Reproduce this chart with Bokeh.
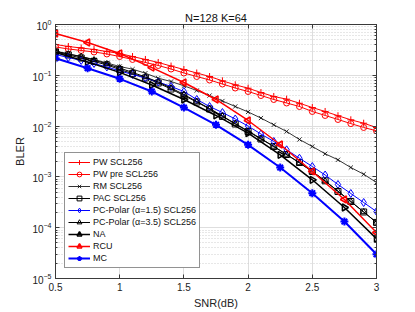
import numpy as np
from bokeh.plotting import figure
from bokeh.models import (LogAxis, LinearAxis, FixedTicker, LogTicker, NumeralTickFormatter,
                          Legend, LegendItem, Range1d)
from bokeh.embed import file_html
from bokeh.resources import INLINE

snr_fine = [0.5, 0.6, 0.7, 0.8, 0.9, 1.0, 1.1, 1.2, 1.3, 1.4, 1.5, 1.6, 1.7,
            1.8, 1.9, 2.0, 2.1, 2.2, 2.3, 2.4, 2.5, 2.6, 2.7, 2.8, 2.9, 3.0]
snr_coarse = [0.5, 0.75, 1.0, 1.25, 1.5, 1.75, 2.0, 2.25, 2.5, 2.75, 3.0]

pw_scl = [0.404, 0.369, 0.345, 0.322, 0.294, 0.269, 0.234, 0.205, 0.179, 0.152, 0.130, 0.111, 0.0947,
          0.0779, 0.0650, 0.0557, 0.0458, 0.0383, 0.0339, 0.0282, 0.0232, 0.0194, 0.0160, 0.0133, 0.0114, 0.00938]
pw_pre = [0.361, 0.330, 0.308, 0.288, 0.263, 0.234, 0.205, 0.179, 0.156, 0.133, 0.111, 0.0947, 0.0808,
          0.0674, 0.0562, 0.0480, 0.0400, 0.0334, 0.0285, 0.0243, 0.0194, 0.0162, 0.0135, 0.0112, 0.0094, 0.00807]
rm_scl = [0.294, 0.263, 0.234, 0.205, 0.175, 0.149, 0.132, 0.110, 0.0877, 0.0755, 0.0621, 0.0502, 0.0400,
          0.0312, 0.0243, 0.0190, 0.0144, 0.0106, 0.00783, 0.00545, 0.00397, 0.00285, 0.00217, 0.00153, 0.00113, 0.000776]
pac_scl = [0.288, 0.251, 0.219, 0.187, 0.160, 0.130, 0.108, 0.0885, 0.0705, 0.0537, 0.0400, 0.0298, 0.0217,
           0.0155, 0.0110, 0.00783, 0.00557, 0.00397, 0.00276, 0.00192, 0.00128, 0.000838, 0.000516, 0.000328, 0.000204, 0.000127]
pc15_scl = [0.257, 0.224, 0.196, 0.171, 0.146, 0.122, 0.104, 0.0885, 0.0738, 0.0602, 0.0480, 0.0334, 0.0243,
            0.0185, 0.0138, 0.0100, 0.00699, 0.00498, 0.00341, 0.00233, 0.00160, 0.00109, 0.000708, 0.000471, 0.000313, 0.000208]
pc35_scl = [0.300, 0.262, 0.234, 0.200, 0.167, 0.139, 0.114, 0.0926, 0.0738, 0.0562, 0.0419, 0.0305, 0.0222,
            0.0158, 0.0112, 0.00801, 0.00570, 0.00397, 0.00276, 0.00188, 0.00128, 0.000830, 0.000527, 0.000328, 0.000204, 0.000127]
na = [0.281, 0.183, 0.114, 0.0644, 0.0334, 0.0162, 0.00725, 0.00272, 0.000877, 0.000250, 6.1e-5]
rcu = [0.665, 0.442, 0.269, 0.142, 0.0722, 0.0334, 0.0129, 0.00434, 0.00128, 0.000359, 8.05e-5]
mc = [0.217, 0.138, 0.0853, 0.0480, 0.0232, 0.0106, 0.00428, 0.00153, 0.000478, 0.000132, 3.0e-5]

x_ticks = [0.5, 1.0, 1.5, 2.0, 2.5, 3.0]

FONT = "Liberation Sans"
AX = "#3a3a3a"

p = figure(frame_width=321, frame_height=254, y_axis_type="log",
           x_range=Range1d(0.5, 3.0), y_range=Range1d(1e-5, 1.0),
           output_backend="svg", toolbar_location=None,
           min_border_left=47, min_border_right=32, min_border_top=15, min_border_bottom=31,
           background_fill_color="white", border_fill_color="white")
p.margin = (8, 0, 0, 8)

p.title.text = "N=128 K=64"
p.title.align = "center"
p.title.text_font = FONT
p.title.text_font_size = "11px"
p.title.text_font_style = "normal"
p.title.text_color = "#111111"
p.title.standoff = 2

p.outline_line_color = AX
p.outline_line_width = 1

xa = p.xaxis[0]
xa.ticker = FixedTicker(ticks=x_ticks)
xa.formatter = NumeralTickFormatter(format="0.[0]")
xa.axis_label = "SNR(dB)"
ya = p.yaxis[0]
ya.ticker = LogTicker(num_minor_ticks=10)
ya.axis_label = "BLER"
for ax in (xa, ya):
    ax.axis_label_text_font = FONT
    ax.axis_label_text_font_size = "11px"
    ax.axis_label_text_font_style = "normal"
    ax.axis_label_text_color = "#222222"
    ax.major_label_text_font = FONT
    ax.major_label_text_font_size = "10px"
    ax.major_label_text_color = "#222222"
    ax.axis_line_color = AX
    ax.major_tick_line_color = AX
    ax.minor_tick_line_color = AX
    ax.major_tick_in = 4
    ax.major_tick_out = 0
    ax.minor_tick_in = 2
    ax.minor_tick_out = 0
    ax.major_label_standoff = 4
xa.axis_label_standoff = 3
ya.axis_label_standoff = 3

ra = LogAxis(ticker=LogTicker(num_minor_ticks=10))
ra.major_label_text_font_size = "1px"
ra.major_label_text_color = None
ra.major_label_standoff = 0
ra.axis_line_color = AX
ra.major_tick_line_color = AX
ra.minor_tick_line_color = AX
ra.major_tick_in = 4
ra.major_tick_out = 0
ra.minor_tick_in = 2
ra.minor_tick_out = 0
p.add_layout(ra, "right")

ta = LinearAxis(ticker=FixedTicker(ticks=x_ticks))
ta.major_label_text_font_size = "1px"
ta.major_label_text_color = None
ta.major_label_standoff = 0
ta.axis_line_color = AX
ta.major_tick_line_color = AX
ta.major_tick_in = 4
ta.major_tick_out = 0
p.add_layout(ta, "above")

p.xgrid.grid_line_color = "#dedede"
p.ygrid.grid_line_color = "#dedede"
p.ygrid.minor_grid_line_color = "#cfcfcf"
p.ygrid.minor_grid_line_dash = "1 2"

series = [
    ("PW SCL256", snr_fine, pw_scl, "#ff0000", "cross", 7, 1.0, 0),
    ("PW pre SCL256", snr_fine, pw_pre, "#ff0000", "circle", 6, 1.0, 0),
    ("RM SCL256", snr_fine, rm_scl, "#000000", "x", 6, 0.8, 0),
    ("PAC SCL256", snr_fine, pac_scl, "#000000", "square", 6, 1.0, 0),
    ("PC-Polar (\u03b1=1.5) SCL256", snr_fine, pc15_scl, "#0000ff", "diamond", 8, 1.0, 0),
    ("PC-Polar (\u03b1=3.5) SCL256", snr_fine, pc35_scl, "#000000", "triangle", 6, 1.0, 0),
    ("NA", snr_coarse, na, "#000000", "triangle", 7, 1.5, -np.pi / 2),
    ("RCU", snr_coarse, rcu, "#ff0000", "triangle", 7, 1.5, np.pi / 2),
    ("MC", snr_coarse, mc, "#0000ff", "asterisk", 8, 2.0, 0),
]

items = []
for label, xs, ys, color, marker, size, lw, ang in series:
    lr = p.line(xs, ys, line_color=color, line_width=lw)
    sr = p.scatter(xs, ys, marker=marker, size=size, line_color=color, fill_color=None,
                   line_width=lw, angle=ang)
    items.append(LegendItem(label=label, renderers=[lr, sr]))

legend = Legend(items=items, location=(9, 10))
legend.label_text_font = FONT
legend.label_text_font_size = "9px"
legend.label_text_color = "#111111"
legend.glyph_width = 22
legend.glyph_height = 12
legend.label_height = 12
legend.spacing = 0
legend.padding = 3
legend.margin = 0
legend.label_standoff = 3
legend.border_line_color = "#262626"
legend.border_line_width = 1
legend.background_fill_color = "white"
legend.background_fill_alpha = 1.0
p.add_layout(legend)

open("out.html", "w").write(file_html(p, INLINE))
